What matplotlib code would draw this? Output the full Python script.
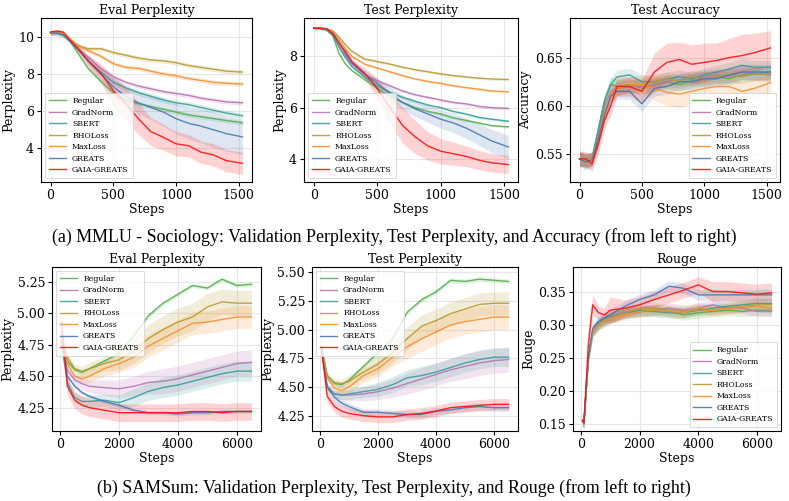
import numpy as np
import matplotlib
matplotlib.use("Agg")
import matplotlib.pyplot as plt

# methods and colours
methods = ["Regular", "GradNorm", "SBERT", "RHOLoss", "MaxLoss", "GREATS", "GAIA-GREATS"]
colors = ["#55b050", "#b874b4", "#3b9d98", "#b59c30", "#f59030", "#4a78b5", "#ff1010"]

# ---- (a) MMLU - Sociology ----
mmlu_steps = [0, 50, 100, 150, 200, 250, 300, 400, 500, 600, 700, 800, 900, 1000, 1100, 1200, 1300, 1400, 1530]

mmlu_eval = [
    [10.2, 10.2, 10.1, 9.8, 9.3, 8.8, 8.3, 7.6, 7.0, 6.6, 6.4, 6.25, 6.1, 5.95, 5.8, 5.7, 5.6, 5.5, 5.38],
    [10.2, 10.2, 10.1, 9.8, 9.5, 9.2, 8.9, 8.3, 7.85, 7.55, 7.35, 7.2, 7.05, 6.95, 6.85, 6.7, 6.6, 6.5, 6.45],
    [10.2, 10.2, 10.1, 9.8, 9.45, 9.1, 8.7, 8.1, 7.55, 7.25, 7.0, 6.8, 6.6, 6.45, 6.35, 6.2, 6.05, 5.9, 5.75],
    [10.2, 10.25, 10.2, 9.9, 9.6, 9.45, 9.35, 9.35, 9.15, 9.0, 8.85, 8.75, 8.7, 8.6, 8.45, 8.35, 8.25, 8.15, 8.1],
    [10.2, 10.25, 10.2, 9.9, 9.6, 9.4, 9.25, 8.95, 8.55, 8.35, 8.3, 8.15, 8.0, 7.9, 7.75, 7.65, 7.55, 7.5, 7.45],
    [10.2, 10.2, 10.1, 9.8, 9.45, 9.1, 8.7, 8.0, 7.3, 6.8, 6.45, 6.2, 5.95, 5.6, 5.35, 5.2, 5.0, 4.8, 4.62],
    [10.25, 10.3, 10.25, 9.85, 9.5, 9.1, 8.7, 8.05, 7.1, 6.4, 5.6, 4.9, 4.6, 4.25, 4.15, 3.8, 3.65, 3.35, 3.2],
]
mmlu_eval_std = [
    0.12, 0.12, 0.15, 0.12, 0.12,
    [0.05, 0.05, 0.05, 0.08, 0.1, 0.15, 0.2, 0.3, 0.45, 0.55, 0.6, 0.65, 0.75, 0.8, 0.85, 0.9, 0.95, 0.95, 0.95],
    [0.05, 0.05, 0.05, 0.08, 0.1, 0.2, 0.3, 0.5, 0.8, 0.9, 0.85, 0.75, 0.7, 0.65, 0.6, 0.6, 0.6, 0.6, 0.6],
]

mmlu_test = [
    [9.1, 9.1, 9.05, 8.8, 8.1, 7.7, 7.45, 7.1, 6.75, 6.45, 6.2, 6.0, 5.85, 5.75, 5.6, 5.5, 5.4, 5.3, 5.25],
    [9.1, 9.1, 9.05, 8.85, 8.4, 8.0, 7.7, 7.3, 7.05, 6.85, 6.65, 6.5, 6.4, 6.3, 6.2, 6.15, 6.05, 6.0, 5.97],
    [9.1, 9.1, 9.05, 8.85, 8.35, 7.95, 7.6, 7.2, 6.85, 6.6, 6.4, 6.25, 6.1, 6.0, 5.85, 5.75, 5.62, 5.55, 5.47],
    [9.1, 9.1, 9.08, 9.0, 8.75, 8.45, 8.2, 7.9, 7.8, 7.7, 7.58, 7.48, 7.4, 7.32, 7.25, 7.2, 7.15, 7.12, 7.1],
    [9.1, 9.1, 9.08, 8.95, 8.65, 8.3, 8.0, 7.7, 7.55, 7.4, 7.25, 7.12, 7.02, 6.95, 6.85, 6.78, 6.72, 6.65, 6.62],
    [9.1, 9.1, 9.05, 8.9, 8.55, 8.1, 7.75, 7.3, 6.95, 6.55, 6.2, 5.95, 5.75, 5.55, 5.4, 5.2, 4.95, 4.7, 4.47],
    [9.1, 9.1, 9.08, 8.9, 8.5, 8.2, 7.8, 7.35, 6.75, 6.0, 5.3, 4.85, 4.5, 4.3, 4.2, 4.1, 3.95, 3.85, 3.78],
]
mmlu_test_std = [
    0.05, 0.06, 0.06, 0.05, 0.05,
    [0.02, 0.02, 0.02, 0.03, 0.05, 0.08, 0.1, 0.15, 0.2, 0.25, 0.3, 0.3, 0.32, 0.35, 0.38, 0.4, 0.42, 0.45, 0.45],
    [0.02, 0.02, 0.02, 0.03, 0.05, 0.08, 0.1, 0.2, 0.4, 0.6, 0.7, 0.65, 0.55, 0.5, 0.45, 0.4, 0.38, 0.36, 0.35],
]

mmlu_acc = [
    [0.545, 0.543, 0.545, 0.575, 0.605, 0.622, 0.62, 0.622, 0.618, 0.622, 0.625, 0.622, 0.626, 0.628, 0.63, 0.628, 0.632, 0.633, 0.635],
    [0.545, 0.544, 0.545, 0.57, 0.6, 0.615, 0.618, 0.62, 0.62, 0.622, 0.625, 0.627, 0.628, 0.63, 0.632, 0.63, 0.635, 0.633, 0.633],
    [0.545, 0.542, 0.545, 0.575, 0.605, 0.622, 0.63, 0.632, 0.625, 0.625, 0.628, 0.63, 0.628, 0.632, 0.635, 0.638, 0.642, 0.64, 0.64],
    [0.545, 0.543, 0.545, 0.565, 0.595, 0.61, 0.618, 0.62, 0.622, 0.625, 0.628, 0.625, 0.63, 0.628, 0.63, 0.632, 0.63, 0.633, 0.632],
    [0.545, 0.543, 0.545, 0.565, 0.59, 0.612, 0.618, 0.622, 0.622, 0.618, 0.614, 0.612, 0.615, 0.618, 0.62, 0.62, 0.615, 0.618, 0.624],
    [0.545, 0.542, 0.544, 0.565, 0.59, 0.61, 0.615, 0.615, 0.602, 0.618, 0.62, 0.625, 0.625, 0.628, 0.628, 0.632, 0.635, 0.635, 0.635],
    [0.545, 0.545, 0.54, 0.56, 0.585, 0.6, 0.62, 0.62, 0.615, 0.635, 0.645, 0.648, 0.643, 0.645, 0.647, 0.65, 0.652, 0.655, 0.66],
]
mmlu_acc_std = [
    0.007, 0.007, 0.007, 0.007,
    [0.007, 0.007, 0.007, 0.008, 0.008, 0.008, 0.008, 0.008, 0.01, 0.012, 0.014, 0.014, 0.012, 0.01, 0.01, 0.01, 0.01, 0.01, 0.01],
    0.008,
    [0.008, 0.008, 0.008, 0.01, 0.01, 0.01, 0.01, 0.01, 0.012, 0.02, 0.02, 0.018, 0.02, 0.02, 0.018, 0.02, 0.022, 0.02, 0.018],
]

# ---- (b) SAMSum ----
sam_steps = [50, 250, 500, 750, 1000, 1500, 2000, 2500, 3000, 3500, 4000, 4500, 5000, 5500, 6000, 6500]

sam_eval = [
    [4.8, 4.62, 4.55, 4.53, 4.56, 4.62, 4.68, 4.82, 4.98, 5.08, 5.15, 5.22, 5.2, 5.27, 5.22, 5.23],
    [4.78, 4.55, 4.47, 4.44, 4.42, 4.41, 4.4, 4.42, 4.45, 4.46, 4.48, 4.51, 4.54, 4.57, 4.6, 4.61],
    [4.75, 4.45, 4.33, 4.3, 4.3, 4.31, 4.29, 4.33, 4.38, 4.41, 4.43, 4.46, 4.49, 4.52, 4.54, 4.54],
    [4.85, 4.65, 4.56, 4.54, 4.56, 4.6, 4.63, 4.7, 4.8, 4.87, 4.93, 4.97, 5.05, 5.09, 5.08, 5.08],
    [4.82, 4.6, 4.5, 4.48, 4.5, 4.56, 4.6, 4.65, 4.74, 4.8, 4.86, 4.92, 4.93, 4.95, 4.97, 4.97],
    [4.78, 4.5, 4.42, 4.37, 4.34, 4.3, 4.27, 4.23, 4.21, 4.21, 4.2, 4.21, 4.21, 4.22, 4.22, 4.22],
    [4.93, 4.42, 4.31, 4.27, 4.25, 4.23, 4.21, 4.21, 4.21, 4.21, 4.21, 4.22, 4.22, 4.21, 4.22, 4.22],
]
sam_eval_std = [
    0.015,
    [0.02, 0.03, 0.04, 0.05, 0.05, 0.06, 0.07, 0.08, 0.09, 0.1, 0.1, 0.1, 0.1, 0.1, 0.1, 0.1],
    [0.02, 0.03, 0.04, 0.04, 0.05, 0.05, 0.06, 0.07, 0.07, 0.08, 0.08, 0.08, 0.08, 0.08, 0.08, 0.08],
    [0.02, 0.03, 0.03, 0.04, 0.05, 0.06, 0.08, 0.1, 0.11, 0.11, 0.11, 0.11, 0.11, 0.1, 0.1, 0.1],
    [0.02, 0.03, 0.03, 0.04, 0.05, 0.06, 0.07, 0.08, 0.09, 0.09, 0.09, 0.09, 0.09, 0.09, 0.09, 0.09],
    0.015,
    0.07,
]

sam_test = [
    [4.85, 4.6, 4.53, 4.52, 4.56, 4.68, 4.8, 4.92, 5.15, 5.26, 5.33, 5.43, 5.42, 5.44, 5.43, 5.42],
    [4.82, 4.5, 4.44, 4.43, 4.43, 4.44, 4.46, 4.49, 4.53, 4.57, 4.61, 4.65, 4.68, 4.71, 4.73, 4.74],
    [4.82, 4.5, 4.44, 4.43, 4.44, 4.46, 4.48, 4.52, 4.58, 4.6, 4.63, 4.67, 4.71, 4.74, 4.76, 4.76],
    [4.85, 4.6, 4.54, 4.53, 4.55, 4.63, 4.7, 4.8, 4.92, 5.03, 5.08, 5.14, 5.18, 5.22, 5.23, 5.23],
    [4.85, 4.58, 4.49, 4.47, 4.5, 4.6, 4.66, 4.76, 4.85, 4.92, 4.98, 5.04, 5.07, 5.09, 5.11, 5.11],
    [4.85, 4.5, 4.41, 4.36, 4.33, 4.28, 4.28, 4.27, 4.26, 4.26, 4.29, 4.3, 4.32, 4.33, 4.32, 4.32],
    [4.85, 4.42, 4.33, 4.29, 4.27, 4.25, 4.24, 4.24, 4.26, 4.27, 4.29, 4.32, 4.33, 4.34, 4.35, 4.35],
]
sam_test_std = [
    0.02,
    [0.02, 0.03, 0.03, 0.04, 0.05, 0.06, 0.07, 0.08, 0.09, 0.1, 0.1, 0.1, 0.11, 0.11, 0.11, 0.11],
    [0.02, 0.03, 0.03, 0.04, 0.05, 0.05, 0.06, 0.07, 0.07, 0.08, 0.08, 0.08, 0.08, 0.08, 0.08, 0.08],
    [0.02, 0.03, 0.03, 0.04, 0.05, 0.06, 0.08, 0.09, 0.1, 0.1, 0.1, 0.1, 0.1, 0.1, 0.1, 0.1],
    [0.02, 0.03, 0.03, 0.04, 0.05, 0.06, 0.07, 0.08, 0.1, 0.11, 0.11, 0.11, 0.11, 0.11, 0.11, 0.11],
    0.03,
    0.05,
]

sam_rouge_steps = [50, 100, 250, 400, 600, 800, 1000, 1500, 2000, 2500, 3000, 3500, 4000, 4500, 5000, 5500, 6000, 6500]
sam_rouge = [
    [0.156, 0.152, 0.25, 0.29, 0.3, 0.305, 0.31, 0.318, 0.32, 0.322, 0.32, 0.315, 0.318, 0.32, 0.322, 0.32, 0.322, 0.322],
    [0.156, 0.152, 0.25, 0.29, 0.302, 0.308, 0.312, 0.318, 0.32, 0.322, 0.325, 0.322, 0.325, 0.33, 0.325, 0.325, 0.32, 0.32],
    [0.156, 0.152, 0.25, 0.29, 0.302, 0.308, 0.312, 0.318, 0.322, 0.32, 0.318, 0.318, 0.322, 0.325, 0.328, 0.33, 0.332, 0.332],
    [0.156, 0.152, 0.25, 0.29, 0.3, 0.308, 0.31, 0.318, 0.325, 0.325, 0.322, 0.32, 0.322, 0.322, 0.325, 0.328, 0.33, 0.33],
    [0.156, 0.152, 0.25, 0.29, 0.3, 0.305, 0.31, 0.315, 0.32, 0.322, 0.32, 0.318, 0.325, 0.322, 0.324, 0.326, 0.328, 0.325],
    [0.156, 0.152, 0.25, 0.295, 0.305, 0.31, 0.315, 0.328, 0.338, 0.345, 0.358, 0.355, 0.345, 0.345, 0.345, 0.345, 0.345, 0.345],
    [0.156, 0.152, 0.27, 0.33, 0.318, 0.315, 0.322, 0.325, 0.33, 0.338, 0.345, 0.352, 0.36, 0.35, 0.35, 0.348, 0.346, 0.348],
]
sam_rouge_std = [
    0.008, 0.008, 0.008, 0.008, 0.008, 0.008,
    [0.003, 0.003, 0.02, 0.015, 0.01, 0.01, 0.02, 0.012, 0.012, 0.012, 0.012, 0.012, 0.012, 0.015, 0.015, 0.015, 0.015, 0.015],
]

plt.rcParams["font.family"] = "DejaVu Serif"

fig = plt.figure(figsize=(7.89, 5.01), dpi=100)
W, H = 789, 501


def px_axes(l, t, r, b):
    return fig.add_axes([l / W, (H - b) / H, (r - l) / W, (b - t) / H])


def panel(ax, steps, means, stds, title, ylabel, ylim, yticks, xticks, legend_loc, fmt=None):
    x = np.array(steps)
    for name, c, m, s in zip(methods, colors, means, stds):
        m = np.array(m)
        s = np.broadcast_to(np.array(s, dtype=float), m.shape)
        ax.fill_between(x, m - s, m + s, color=c, alpha=0.18, linewidth=0)
        ax.plot(x, m, color=c, lw=1.0, alpha=0.9, label=name)
    ax.set_title(title, fontsize=9, pad=3)
    ax.set_xlabel("Steps", fontsize=9, labelpad=1)
    ax.set_ylabel(ylabel, fontsize=9, labelpad=2)
    ax.set_ylim(*ylim)
    ax.set_yticks(yticks)
    if fmt:
        ax.set_yticklabels([fmt.format(v) for v in yticks])
    ax.set_xticks(xticks)
    ax.tick_params(labelsize=9, length=3, pad=2)
    ax.grid(True, color="#e6e6e6", linewidth=0.8)
    ax.set_axisbelow(True)
    leg = ax.legend(loc=legend_loc, fontsize=5.6, frameon=True, borderpad=0.5,
                    labelspacing=0.45, handlelength=2.2, fancybox=False)
    leg.get_frame().set_edgecolor("#cccccc")
    leg.get_frame().set_linewidth(0.6)


ax1 = px_axes(41, 18, 252, 182)
panel(ax1, mmlu_steps, mmlu_eval, mmlu_eval_std, "Eval Perplexity", "Perplexity",
      (2.2, 11.0), [4, 6, 8, 10], [0, 500, 1000, 1500], "lower left")
ax2 = px_axes(304, 18, 518, 182)
panel(ax2, mmlu_steps, mmlu_test, mmlu_test_std, "Test Perplexity", "Perplexity",
      (3.1, 9.5), [4, 6, 8], [0, 500, 1000, 1500], "lower left")
ax3 = px_axes(570, 18, 780, 182)
panel(ax3, mmlu_steps, mmlu_acc, mmlu_acc_std, "Test Accuracy", "Accuracy",
      (0.521, 0.691), [0.55, 0.60, 0.65], [0, 500, 1000, 1500], "lower right", "{:.2f}")

ax4 = px_axes(52, 267, 261, 431)
panel(ax4, sam_steps, sam_eval, sam_eval_std, "Eval Perplexity", "Perplexity",
      (4.065, 5.367), [4.25, 4.50, 4.75, 5.00, 5.25], [0, 2000, 4000, 6000], "upper left", "{:.2f}")
ax5 = px_axes(312, 267, 518, 431)
panel(ax5, sam_steps, sam_test, sam_test_std, "Test Perplexity", "Perplexity",
      (4.117, 5.546), [4.25, 4.50, 4.75, 5.00, 5.25, 5.50], [0, 2000, 4000, 6000], "upper left", "{:.2f}")
ax6 = px_axes(573, 267, 781, 431)
panel(ax6, sam_rouge_steps, sam_rouge, sam_rouge_std, "Rouge", "Rouge",
      (0.140, 0.387), [0.15, 0.20, 0.25, 0.30, 0.35], [0, 2000, 4000, 6000], "lower right", "{:.2f}")

fig.text(394 / W, 1 - 237 / H,
         "(a) MMLU - Sociology: Validation Perplexity, Test Perplexity, and Accuracy (from left to right)",
         ha="center", va="center", fontsize=12.9, family="Liberation Serif")
fig.text(394 / W, 1 - 488 / H,
         "(b) SAMSum: Validation Perplexity, Test Perplexity, and Rouge (from left to right)",
         ha="center", va="center", fontsize=12.9, family="Liberation Serif")

fig.savefig("out.png", dpi=100)
